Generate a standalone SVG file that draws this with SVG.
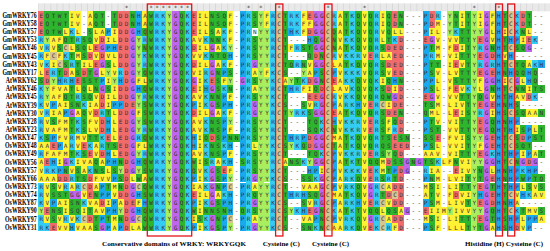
<svg xmlns="http://www.w3.org/2000/svg" width="550" height="251" viewBox="0 0 550 251">
<style>
#cells path{fill:none;stroke-width:1px;shape-rendering:crispEdges}
.y{stroke:#FFF133}.g{stroke:#2DB52D}.r{stroke:#F26B6B}.c{stroke:#33CCF2}.h{stroke:#1BA9EE}.l{stroke:#A8EE5E}.p{stroke:#C066EE}.k{stroke:#D5C58E}
.seq{font-family:"DejaVu Sans Mono",monospace;font-size:6px;letter-spacing:2.4874px;fill:#333}
.lab{font-family:"Liberation Serif",serif;font-weight:bold;font-size:7.5px;text-anchor:end;transform:scale(.78,1)}
.cap{font-family:"Liberation Serif",serif;font-weight:bold;font-size:7px;fill:#000}
.star{font-family:"DejaVu Sans Mono",monospace;font-size:6px;text-anchor:middle;fill:#333}
.box{fill:none;stroke:#E3151B;stroke-width:1.3}
</style>
<defs>
<pattern id="tick" x="38.2" y="0" width="6.1" height="12" patternUnits="userSpaceOnUse"><rect width="6.1" height="12" fill="#E9E9E9"/><line x1="0.25" y1="0" x2="0.25" y2="12" stroke="#C2C2C2" stroke-width="0.5"/></pattern>
</defs>
<rect width="550" height="251" fill="#fff"/>
<g id="header">
<rect x="38.2" y="3.3" width="511.8" height="8" fill="url(#tick)"/>
<text class="star" x="126.65 151.05 157.15 163.25 169.35 175.45 181.55 187.65 248.65 260.85 279.15 327.95 364.55 474.35 498.75" y="10.2">***************</text>
</g>
<g id="cells" transform="translate(38.2 11.35) scale(6.1 8.15)">
<g id="conserved-columns">
<path class="r" d="M14.5 0v27"/><path class="g" d="M18.5 0v27M23.5 0v27"/><path class="c" d="M19.5 0v27M20.5 0v27M24.5 0v27M34.5 0v27M38.5 0v27"/><path class="l" d="M21.5 0v27M36.5 0v27M71.5 0v27"/><path class="p" d="M22.5 0v27M73.5 0v27"/><path class="k" d="M39.5 0v27M47.5 0v27"/><path class="h" d="M75.5 0v27"/>
</g>
<g id="r0"><path class="r" d="M0 .5h1M13 .5h1M25 .5h1M44 .5h1M58 .5h1M64 .5h1M79 .5h1"/><path class="g" d="M1 .5h4M9 .5h2M12 .5h1M15 .5h1M28 .5h3M35 .5h1M40 .5h1M50 .5h1M52 .5h1M54 .5h1M57 .5h1M59 .5h1M68 .5h1M70 .5h1M76 .5h1M80 .5h1"/><path class="y" d="M5 .5h2M8 .5h1M17 .5h1M26 .5h2M31 .5h1M37 .5h1M43 .5h1M49 .5h1M53 .5h1M56 .5h1M69 .5h1M72 .5h1M74 .5h1"/><path class="h" d="M16 .5h1M33 .5h1M63 .5h1"/><path class="c" d="M41 .5h2M48 .5h1M51 .5h1M55 .5h1M65 .5h1M78 .5h1"/><path class="p" d="M45 .5h2"/><path class="l" d="M67 .5h1"/><path class="k" d="M77 .5h1"/></g>
<g id="r1" transform="translate(0 1)"><path class="r" d="M0 .5h1M13 .5h1M25 .5h1M58 .5h1M64 .5h1M79 .5h1"/><path class="g" d="M1 .5h4M9 .5h2M12 .5h1M15 .5h1M28 .5h3M35 .5h1M40 .5h1M50 .5h1M52 .5h1M54 .5h1M57 .5h1M59 .5h1M68 .5h1M70 .5h1M76 .5h1M80 .5h1"/><path class="y" d="M5 .5h2M8 .5h1M17 .5h1M26 .5h2M31 .5h1M37 .5h1M43 .5h2M49 .5h1M53 .5h1M56 .5h1M65 .5h1M69 .5h1M72 .5h1M74 .5h1"/><path class="h" d="M16 .5h1M33 .5h1M63 .5h1"/><path class="c" d="M41 .5h2M48 .5h1M51 .5h1M55 .5h1M78 .5h1"/><path class="p" d="M45 .5h2"/><path class="l" d="M67 .5h1"/><path class="k" d="M77 .5h1"/></g>
<g id="r2" transform="translate(0 2)"><path class="r" d="M0 .5h1M13 .5h1M25 .5h1M44 .5h1"/><path class="g" d="M1 .5h3M8 .5h1M17 .5h1M28 .5h1M40 .5h1M48 .5h1M50 .5h1M52 .5h1M54 .5h1M57 .5h1M69 .5h2M79 .5h1"/><path class="y" d="M4 .5h1M6 .5h1M9 .5h2M12 .5h1M26 .5h2M29 .5h1M31 .5h1M43 .5h1M49 .5h1M53 .5h1M56 .5h1M58 .5h2M64 .5h2M74 .5h1M76 .5h1M80 .5h1"/><path class="c" d="M5 .5h1M30 .5h1M42 .5h1M51 .5h1M55 .5h1M68 .5h1M78 .5h1"/><path class="h" d="M11 .5h1M16 .5h1M33 .5h1M41 .5h1M63 .5h1"/><path class="p" d="M15 .5h1M45 .5h2"/><path class="l" d="M37 .5h1M67 .5h1M72 .5h1"/><path class="k" d="M77 .5h1"/></g>
<g id="r3" transform="translate(0 3)"><path class="c" d="M0 .5h1M6 .5h1M17 .5h1M27 .5h1M30 .5h1M50 .5h2M55 .5h1M58 .5h1M81 .5h1"/><path class="l" d="M1 .5h1M16 .5h1M37 .5h1"/><path class="y" d="M2 .5h2M9 .5h1M11 .5h2M25 .5h2M31 .5h1M49 .5h1M53 .5h1M56 .5h1M65 .5h1M67 .5h2M74 .5h1M79 .5h1"/><path class="g" d="M4 .5h2M7 .5h2M28 .5h2M35 .5h1M40 .5h1M45 .5h1M48 .5h1M52 .5h1M54 .5h1M57 .5h1M69 .5h2M76 .5h1"/><path class="r" d="M10 .5h1M13 .5h1M59 .5h1M63 .5h1M72 .5h1M80 .5h1"/><path class="p" d="M15 .5h1M46 .5h1M64 .5h1"/><path class="h" d="M33 .5h1M44 .5h1M77 .5h2"/></g>
<g id="r4" transform="translate(0 4)"><path class="y" d="M0 .5h1M2 .5h1M5 .5h1M8 .5h1M26 .5h2M29 .5h1M41 .5h1M49 .5h1M53 .5h1M65 .5h1M67 .5h1M69 .5h1"/><path class="c" d="M1 .5h1M30 .5h1M42 .5h1M51 .5h1M55 .5h1M72 .5h1"/><path class="g" d="M3 .5h1M6 .5h2M17 .5h1M35 .5h1M40 .5h1M43 .5h2M48 .5h1M50 .5h1M52 .5h1M54 .5h1M56 .5h1M64 .5h1M70 .5h1M74 .5h1M76 .5h1M78 .5h2"/><path class="k" d="M4 .5h1M77 .5h1"/><path class="r" d="M9 .5h1M13 .5h1M25 .5h1M57 .5h3M68 .5h1"/><path class="p" d="M10 .5h1M15 .5h1M28 .5h1M45 .5h2M80 .5h1"/><path class="h" d="M11 .5h2M33 .5h1M63 .5h1"/><path class="l" d="M16 .5h1M31 .5h1M37 .5h1"/></g>
<g id="r5" transform="translate(0 5)"><path class="c" d="M0 .5h1M4 .5h1M17 .5h1M27 .5h1M48 .5h1M50 .5h3M55 .5h1M64 .5h1"/><path class="y" d="M1 .5h1M3 .5h1M6 .5h1M9 .5h1M11 .5h2M25 .5h2M49 .5h1M53 .5h1M56 .5h2M65 .5h1M67 .5h2M76 .5h1"/><path class="k" d="M2 .5h1"/><path class="g" d="M5 .5h1M7 .5h1M28 .5h3M35 .5h1M40 .5h1M44 .5h1M46 .5h1M69 .5h2"/><path class="r" d="M8 .5h1M10 .5h1M13 .5h1M45 .5h1M54 .5h1M58 .5h2M72 .5h1M74 .5h1"/><path class="p" d="M15 .5h1"/><path class="l" d="M16 .5h1M37 .5h1"/><path class="h" d="M31 .5h1M33 .5h1M63 .5h1M77 .5h1"/></g>
<g id="r6" transform="translate(0 6)"><path class="y" d="M0 .5h1M2 .5h1M7 .5h2M12 .5h1M26 .5h2M29 .5h1M31 .5h1M44 .5h1M48 .5h2M53 .5h1M67 .5h1M69 .5h1M80 .5h1"/><path class="c" d="M1 .5h1M5 .5h1M17 .5h1M30 .5h1M42 .5h1M51 .5h1M55 .5h1M72 .5h1M74 .5h1M81 .5h1"/><path class="k" d="M3 .5h1M77 .5h1"/><path class="g" d="M4 .5h1M6 .5h1M11 .5h1M40 .5h2M43 .5h1M50 .5h1M52 .5h1M54 .5h1M56 .5h1M64 .5h2M70 .5h1M76 .5h1M78 .5h2"/><path class="r" d="M9 .5h1M13 .5h1M25 .5h1M57 .5h3M68 .5h1"/><path class="p" d="M10 .5h1M15 .5h1M28 .5h1M35 .5h1M45 .5h2"/><path class="l" d="M16 .5h1M37 .5h1"/><path class="h" d="M33 .5h1M63 .5h1M82 .5h1"/></g>
<g id="r7" transform="translate(0 7)"><path class="y" d="M0 .5h1M5 .5h1M10 .5h1M12 .5h1M25 .5h2M35 .5h1M37 .5h1M44 .5h1M49 .5h1M53 .5h1M57 .5h1M65 .5h1M67 .5h2"/><path class="r" d="M1 .5h1M4 .5h1M7 .5h1M58 .5h2M72 .5h1M74 .5h1"/><path class="c" d="M2 .5h1M13 .5h1M27 .5h1M50 .5h3M55 .5h1"/><path class="g" d="M3 .5h1M6 .5h1M8 .5h1M17 .5h1M29 .5h1M31 .5h1M40 .5h1M46 .5h1M54 .5h1M56 .5h1M64 .5h1M69 .5h2M76 .5h1M78 .5h2M81 .5h1"/><path class="p" d="M9 .5h1M15 .5h1M28 .5h1"/><path class="l" d="M11 .5h1M16 .5h1M43 .5h1"/><path class="h" d="M30 .5h1M33 .5h1M45 .5h1M48 .5h1M63 .5h1M77 .5h1M80 .5h1"/></g>
<g id="r8" transform="translate(0 8)"><path class="g" d="M0 .5h1M7 .5h3M29 .5h1M35 .5h1M42 .5h1M46 .5h1M52 .5h1M54 .5h1M57 .5h1M59 .5h1M68 .5h3M81 .5h1"/><path class="r" d="M1 .5h1M6 .5h1M28 .5h1M44 .5h1M48 .5h1"/><path class="l" d="M2 .5h1M12 .5h1M31 .5h1M37 .5h1M41 .5h1"/><path class="h" d="M3 .5h1M5 .5h1M10 .5h1M13 .5h1M58 .5h1M63 .5h2M80 .5h1"/><path class="c" d="M4 .5h1M27 .5h1M43 .5h1M50 .5h2M55 .5h1"/><path class="y" d="M11 .5h1M16 .5h2M26 .5h1M30 .5h1M40 .5h1M49 .5h1M53 .5h1M56 .5h1M65 .5h1M67 .5h1M72 .5h1M76 .5h1M79 .5h1"/><path class="p" d="M15 .5h1M25 .5h1M33 .5h1M45 .5h1M74 .5h1M78 .5h1"/><path class="k" d="M77 .5h1"/></g>
<g id="r9" transform="translate(0 9)"><path class="c" d="M0 .5h1M30 .5h1M42 .5h1M51 .5h1M55 .5h1M70 .5h1"/><path class="l" d="M1 .5h1M37 .5h1"/><path class="y" d="M2 .5h3M6 .5h1M8 .5h1M12 .5h1M26 .5h1M35 .5h1M43 .5h2M48 .5h3M53 .5h1M58 .5h1M65 .5h1M67 .5h1M69 .5h1M72 .5h1M80 .5h1"/><path class="g" d="M5 .5h1M7 .5h1M9 .5h1M11 .5h1M17 .5h1M29 .5h1M31 .5h1M40 .5h1M45 .5h1M52 .5h1M54 .5h1M56 .5h1M64 .5h1M74 .5h1M76 .5h1M78 .5h2M81 .5h2"/><path class="p" d="M10 .5h1M15 .5h1M28 .5h1"/><path class="r" d="M13 .5h1M25 .5h1M46 .5h1M57 .5h1M59 .5h1M68 .5h1"/><path class="h" d="M16 .5h1M27 .5h1M33 .5h1M41 .5h1M63 .5h1"/><path class="k" d="M77 .5h1"/></g>
<g id="r10" transform="translate(0 10)"><path class="c" d="M0 .5h1M6 .5h1M17 .5h1M27 .5h1M48 .5h1M50 .5h2M55 .5h1M81 .5h1"/><path class="l" d="M1 .5h1M16 .5h1M37 .5h1"/><path class="y" d="M2 .5h2M9 .5h1M11 .5h2M25 .5h2M31 .5h1M49 .5h1M53 .5h1M65 .5h1M67 .5h2M74 .5h1M78 .5h2"/><path class="g" d="M4 .5h2M7 .5h2M28 .5h2M35 .5h1M40 .5h1M52 .5h1M54 .5h1M56 .5h2M69 .5h2M72 .5h1M76 .5h1"/><path class="r" d="M10 .5h1M13 .5h1M44 .5h2M59 .5h1M63 .5h1M80 .5h1"/><path class="p" d="M15 .5h1M46 .5h1M58 .5h1M64 .5h1"/><path class="h" d="M30 .5h1M33 .5h1M77 .5h1"/></g>
<g id="r11" transform="translate(0 11)"><path class="c" d="M0 .5h1M7 .5h1M27 .5h1M45 .5h1M50 .5h2M55 .5h1"/><path class="y" d="M1 .5h1M3 .5h2M8 .5h2M11 .5h1M26 .5h1M44 .5h1M49 .5h1M53 .5h1M57 .5h1M65 .5h1M67 .5h3"/><path class="h" d="M2 .5h1M12 .5h2M25 .5h1M30 .5h2M33 .5h1M48 .5h1M52 .5h1M77 .5h1"/><path class="g" d="M5 .5h2M17 .5h1M29 .5h1M40 .5h1M43 .5h1M63 .5h2M70 .5h1M76 .5h1M78 .5h1"/><path class="r" d="M10 .5h1M15 .5h1M54 .5h1M58 .5h2M72 .5h1M74 .5h1"/><path class="l" d="M16 .5h1M37 .5h1"/><path class="p" d="M28 .5h1M35 .5h1M46 .5h1"/><path class="k" d="M56 .5h1"/></g>
<g id="r12" transform="translate(0 12)"><path class="y" d="M0 .5h1M2 .5h2M6 .5h1M8 .5h1M12 .5h1M16 .5h1M26 .5h2M29 .5h1M31 .5h1M49 .5h1M53 .5h1M64 .5h2M67 .5h1M69 .5h1M74 .5h1M80 .5h2"/><path class="c" d="M1 .5h1M10 .5h1M30 .5h1M42 .5h2M51 .5h1M55 .5h1M72 .5h1"/><path class="h" d="M4 .5h1M33 .5h1"/><path class="p" d="M5 .5h1M15 .5h1M28 .5h1M35 .5h1M45 .5h2"/><path class="g" d="M7 .5h1M11 .5h1M17 .5h1M40 .5h1M44 .5h1M50 .5h1M52 .5h1M54 .5h1M56 .5h1M59 .5h1M63 .5h1M70 .5h1M76 .5h1M78 .5h2M82 .5h1"/><path class="r" d="M9 .5h1M13 .5h1M25 .5h1M48 .5h1M57 .5h2M68 .5h1"/><path class="l" d="M37 .5h1M41 .5h1"/><path class="k" d="M77 .5h1"/></g>
<g id="r13" transform="translate(0 13)"><path class="c" d="M0 .5h1M6 .5h1M27 .5h1M46 .5h1M50 .5h3M55 .5h1"/><path class="y" d="M1 .5h1M3 .5h2M8 .5h2M12 .5h1M25 .5h2M49 .5h1M53 .5h1M57 .5h1M65 .5h1M67 .5h2"/><path class="g" d="M2 .5h1M5 .5h1M7 .5h1M17 .5h1M28 .5h2M35 .5h1M40 .5h1M44 .5h2M56 .5h1M58 .5h1M64 .5h1M69 .5h2M74 .5h1M76 .5h1"/><path class="r" d="M10 .5h1M13 .5h1M54 .5h1M59 .5h1M72 .5h1"/><path class="h" d="M11 .5h1M30 .5h1M33 .5h1M48 .5h1M63 .5h1M77 .5h2"/><path class="p" d="M15 .5h1"/><path class="l" d="M16 .5h1M31 .5h1M37 .5h1"/></g>
<g id="r14" transform="translate(0 14)"><path class="c" d="M0 .5h1M6 .5h1M17 .5h1M27 .5h1M46 .5h1M50 .5h3M55 .5h1M58 .5h1"/><path class="y" d="M1 .5h4M8 .5h2M12 .5h1M25 .5h2M31 .5h1M49 .5h1M53 .5h1M57 .5h1M67 .5h2M78 .5h1M81 .5h1"/><path class="g" d="M5 .5h1M7 .5h1M28 .5h2M35 .5h1M40 .5h1M44 .5h2M48 .5h1M56 .5h1M64 .5h2M69 .5h2M74 .5h1M76 .5h1M79 .5h1M82 .5h1"/><path class="r" d="M10 .5h1M13 .5h1M54 .5h1M59 .5h1M72 .5h1"/><path class="h" d="M11 .5h1M30 .5h1M33 .5h1M63 .5h1M77 .5h1M80 .5h1"/><path class="p" d="M15 .5h1"/><path class="l" d="M16 .5h1M37 .5h1"/></g>
<g id="r15" transform="translate(0 15)"><path class="c" d="M0 .5h1M5 .5h1M10 .5h1M16 .5h1M42 .5h1M51 .5h1M55 .5h1"/><path class="g" d="M1 .5h1M8 .5h2M17 .5h1M27 .5h1M29 .5h1M31 .5h2M35 .5h1M40 .5h1M50 .5h1M52 .5h1M54 .5h1M56 .5h2M59 .5h2M63 .5h2M70 .5h1M76 .5h1M78 .5h1M81 .5h2"/><path class="h" d="M2 .5h1M25 .5h1M30 .5h1M33 .5h1M41 .5h1M43 .5h1M80 .5h1"/><path class="y" d="M3 .5h2M6 .5h2M12 .5h1M26 .5h1M48 .5h2M53 .5h1M67 .5h3"/><path class="r" d="M11 .5h1M13 .5h1M28 .5h1M44 .5h1M58 .5h1M65 .5h1M74 .5h1M79 .5h1"/><path class="p" d="M15 .5h1M45 .5h2"/><path class="l" d="M37 .5h1M72 .5h1"/><path class="k" d="M77 .5h1"/></g>
<g id="r16" transform="translate(0 16)"><path class="y" d="M0 .5h2M4 .5h1M6 .5h1M9 .5h1M16 .5h2M26 .5h1M35 .5h1M49 .5h1M53 .5h1M65 .5h1M67 .5h3M72 .5h1"/><path class="r" d="M2 .5h1M7 .5h1M13 .5h1M44 .5h1M58 .5h3M74 .5h1"/><path class="h" d="M3 .5h1M25 .5h1M31 .5h1M33 .5h1M63 .5h1"/><path class="c" d="M5 .5h1M8 .5h1M10 .5h1M27 .5h1M30 .5h1M42 .5h1M51 .5h1M55 .5h1"/><path class="g" d="M11 .5h2M28 .5h2M40 .5h1M43 .5h1M48 .5h1M50 .5h1M52 .5h1M54 .5h1M56 .5h2M64 .5h1M70 .5h1M76 .5h1M78 .5h3"/><path class="p" d="M15 .5h1M45 .5h2"/><path class="l" d="M37 .5h1M41 .5h1"/><path class="k" d="M77 .5h1"/></g>
<g id="r17" transform="translate(0 17)"><path class="c" d="M0 .5h1M6 .5h1M17 .5h1M27 .5h1M46 .5h1M50 .5h3M55 .5h1M74 .5h1"/><path class="y" d="M1 .5h4M9 .5h1M12 .5h1M25 .5h2M31 .5h1M49 .5h1M53 .5h1M63 .5h3M67 .5h2M79 .5h1M81 .5h1"/><path class="g" d="M5 .5h1M7 .5h1M28 .5h2M35 .5h1M40 .5h1M44 .5h2M56 .5h1M58 .5h1M69 .5h2M76 .5h1M82 .5h1"/><path class="r" d="M8 .5h1M10 .5h1M13 .5h1M54 .5h1M59 .5h1M72 .5h1"/><path class="h" d="M11 .5h1M30 .5h1M33 .5h1M48 .5h1M77 .5h2M80 .5h1"/><path class="p" d="M15 .5h1"/><path class="l" d="M16 .5h1M37 .5h1M57 .5h1"/></g>
<g id="r18" transform="translate(0 18)"><path class="y" d="M0 .5h1M3 .5h1M6 .5h3M10 .5h1M26 .5h1M29 .5h1M40 .5h1M49 .5h1M53 .5h1M56 .5h1M66 .5h2M69 .5h2"/><path class="r" d="M1 .5h1M57 .5h1M80 .5h1"/><path class="h" d="M2 .5h1M11 .5h2M16 .5h1M31 .5h1M48 .5h1"/><path class="p" d="M4 .5h1M15 .5h1M45 .5h2M60 .5h1M62 .5h1M74 .5h1M79 .5h1M81 .5h1"/><path class="c" d="M5 .5h1M28 .5h1M30 .5h1M43 .5h1M51 .5h1M65 .5h1"/><path class="g" d="M9 .5h1M13 .5h1M17 .5h1M25 .5h1M27 .5h1M33 .5h1M35 .5h1M41 .5h2M50 .5h1M52 .5h1M54 .5h2M58 .5h2M61 .5h1M63 .5h2M68 .5h1M76 .5h1M78 .5h1"/><path class="l" d="M37 .5h1M44 .5h1M72 .5h1"/><path class="k" d="M77 .5h1"/></g>
<g id="r19" transform="translate(0 19)"><path class="y" d="M0 .5h1M5 .5h1M7 .5h1M11 .5h1M26 .5h1M31 .5h1M46 .5h1M49 .5h1M53 .5h1M56 .5h1M64 .5h2M69 .5h2M74 .5h1"/><path class="c" d="M1 .5h2M8 .5h1M27 .5h1M50 .5h3M55 .5h1M63 .5h1M79 .5h1"/><path class="h" d="M3 .5h1M33 .5h1M44 .5h2M48 .5h1M58 .5h1M77 .5h2M80 .5h2"/><path class="g" d="M4 .5h1M6 .5h1M9 .5h2M12 .5h1M17 .5h1M25 .5h1M29 .5h1M35 .5h1M40 .5h1M57 .5h1M72 .5h1M76 .5h1"/><path class="l" d="M13 .5h1M16 .5h1M37 .5h1"/><path class="p" d="M15 .5h1M28 .5h1M60 .5h1"/><path class="r" d="M30 .5h1M54 .5h1M59 .5h1M68 .5h1"/></g>
<g id="r20" transform="translate(0 20)"><path class="y" d="M0 .5h3M9 .5h3M15 .5h1M17 .5h1M26 .5h1M49 .5h1M53 .5h1M65 .5h1M67 .5h3"/><path class="r" d="M3 .5h2M8 .5h1M54 .5h1M59 .5h1M74 .5h1"/><path class="c" d="M5 .5h1M27 .5h1M45 .5h1M50 .5h2M55 .5h1M57 .5h1"/><path class="g" d="M6 .5h2M13 .5h1M16 .5h1M29 .5h1M40 .5h1M43 .5h2M52 .5h1M56 .5h1M58 .5h1M64 .5h1M70 .5h1M72 .5h1M76 .5h1M79 .5h1M81 .5h2"/><path class="h" d="M12 .5h1M25 .5h1M30 .5h1M33 .5h1M48 .5h1M63 .5h1M77 .5h2M80 .5h1"/><path class="p" d="M28 .5h1M35 .5h1M46 .5h1"/><path class="l" d="M31 .5h1M37 .5h1"/></g>
<g id="r21" transform="translate(0 21)"><path class="c" d="M0 .5h1M4 .5h1M6 .5h1M27 .5h1M50 .5h2M55 .5h1"/><path class="y" d="M1 .5h1M3 .5h1M5 .5h1M9 .5h1M12 .5h1M25 .5h2M35 .5h1M43 .5h3M49 .5h1M53 .5h1M57 .5h1M63 .5h1M65 .5h1M67 .5h2M79 .5h1M81 .5h1"/><path class="g" d="M2 .5h1M11 .5h1M13 .5h1M17 .5h1M29 .5h1M40 .5h1M52 .5h1M64 .5h1M69 .5h2M74 .5h1M76 .5h1M80 .5h1M82 .5h1"/><path class="k" d="M7 .5h1M16 .5h1M31 .5h1M56 .5h1"/><path class="r" d="M8 .5h1M58 .5h2M72 .5h1"/><path class="h" d="M10 .5h1M30 .5h1M33 .5h1M48 .5h1M77 .5h2"/><path class="p" d="M15 .5h1M28 .5h1M46 .5h1M54 .5h1"/><path class="l" d="M37 .5h1"/></g>
<g id="r22" transform="translate(0 22)"><path class="c" d="M0 .5h1M30 .5h1M42 .5h1M51 .5h1M55 .5h1M80 .5h1"/><path class="y" d="M1 .5h1M7 .5h1M12 .5h1M26 .5h2M29 .5h1M48 .5h2M53 .5h1M63 .5h1M65 .5h1M67 .5h1M69 .5h2M78 .5h1M81 .5h2"/><path class="g" d="M2 .5h3M9 .5h1M17 .5h1M35 .5h1M40 .5h1M44 .5h2M50 .5h1M52 .5h1M56 .5h1M64 .5h1M76 .5h1"/><path class="p" d="M5 .5h2M15 .5h1M28 .5h1M46 .5h1M54 .5h1"/><path class="r" d="M8 .5h1M13 .5h1M25 .5h1M57 .5h1M59 .5h1M68 .5h1M74 .5h1"/><path class="h" d="M10 .5h2M16 .5h1M31 .5h1M33 .5h1M41 .5h1M43 .5h1M72 .5h1M79 .5h1"/><path class="l" d="M37 .5h1"/><path class="k" d="M58 .5h1M77 .5h1"/></g>
<g id="r23" transform="translate(0 23)"><path class="c" d="M0 .5h1M7 .5h1M27 .5h1M45 .5h1M50 .5h2M55 .5h1"/><path class="y" d="M1 .5h1M3 .5h2M8 .5h2M11 .5h1M13 .5h1M16 .5h1M26 .5h1M44 .5h1M49 .5h1M53 .5h1M57 .5h1M65 .5h1M67 .5h3M78 .5h1"/><path class="h" d="M2 .5h1M12 .5h1M17 .5h1M25 .5h1M30 .5h2M33 .5h1M48 .5h1M52 .5h1M63 .5h1M77 .5h1"/><path class="g" d="M5 .5h2M29 .5h1M40 .5h1M43 .5h1M64 .5h1M70 .5h1M76 .5h1"/><path class="r" d="M10 .5h1M15 .5h1M54 .5h1M58 .5h2M72 .5h1M74 .5h1"/><path class="p" d="M28 .5h1M35 .5h1M46 .5h1"/><path class="l" d="M37 .5h1"/><path class="k" d="M56 .5h1"/></g>
<g id="r24" transform="translate(0 24)"><path class="l" d="M0 .5h1M13 .5h1M37 .5h1M41 .5h1M67 .5h1M72 .5h1"/><path class="r" d="M1 .5h1M44 .5h1M63 .5h1"/><path class="g" d="M2 .5h2M5 .5h2M8 .5h1M17 .5h1M25 .5h1M27 .5h4M33 .5h1M35 .5h1M40 .5h1M46 .5h1M50 .5h1M52 .5h1M54 .5h2M57 .5h2M74 .5h1M76 .5h1M79 .5h1M82 .5h1"/><path class="y" d="M4 .5h1M7 .5h1M9 .5h2M26 .5h1M49 .5h1M53 .5h1M56 .5h1M59 .5h1M64 .5h3M68 .5h3M80 .5h2"/><path class="h" d="M11 .5h2M16 .5h1M31 .5h1M43 .5h1"/><path class="p" d="M15 .5h1M45 .5h1M60 .5h1"/><path class="c" d="M42 .5h1M48 .5h1M51 .5h1M78 .5h1"/><path class="k" d="M77 .5h1"/></g>
<g id="r25" transform="translate(0 25)"><path class="c" d="M0 .5h1M4 .5h1M6 .5h1M27 .5h1M50 .5h2M55 .5h1"/><path class="y" d="M1 .5h1M3 .5h1M5 .5h1M12 .5h1M25 .5h1M35 .5h1M43 .5h2M49 .5h1M53 .5h1M57 .5h1M63 .5h1M65 .5h1M67 .5h2M79 .5h1M82 .5h1"/><path class="g" d="M2 .5h1M9 .5h1M11 .5h1M13 .5h1M17 .5h1M26 .5h1M29 .5h1M40 .5h1M46 .5h1M52 .5h1M64 .5h1M69 .5h2M74 .5h1M76 .5h1"/><path class="k" d="M7 .5h1M16 .5h1M31 .5h1M56 .5h1"/><path class="r" d="M8 .5h1M58 .5h2M72 .5h1"/><path class="h" d="M10 .5h1M30 .5h1M33 .5h1M45 .5h1M48 .5h1M77 .5h2M80 .5h2"/><path class="p" d="M15 .5h1M28 .5h1M54 .5h1"/><path class="l" d="M37 .5h1"/></g>
<g id="r26" transform="translate(0 26)"><path class="c" d="M0 .5h2M27 .5h1M45 .5h1M50 .5h2M55 .5h1M57 .5h1"/><path class="r" d="M2 .5h1M54 .5h1M59 .5h1M78 .5h1"/><path class="y" d="M3 .5h2M6 .5h3M12 .5h1M15 .5h2M26 .5h1M48 .5h2M53 .5h1M58 .5h1M65 .5h1M67 .5h3M74 .5h1M79 .5h1"/><path class="h" d="M5 .5h1M11 .5h1M13 .5h1M25 .5h1M30 .5h1M33 .5h1M63 .5h1M77 .5h1M80 .5h1"/><path class="g" d="M9 .5h1M17 .5h1M29 .5h1M40 .5h1M43 .5h2M46 .5h1M52 .5h1M64 .5h1M70 .5h1M72 .5h1M76 .5h1"/><path class="p" d="M10 .5h1M28 .5h1M35 .5h1"/><path class="l" d="M31 .5h1M37 .5h1"/><path class="k" d="M56 .5h1"/></g>
</g>
<g id="residues">
<text class="seq" x="39.44" y="17.65">EQTWTIV-AQT-TDDNHAWRKYGQKEILNSQF-PRSYFRCTRKFEGGCRATKQVQRIQEN---PDR-YNITYIGFHTCKDT--</text>
<text class="seq" x="39.44" y="25.8">EQTWTIV-AQT-TDDNHAWRKYGQKEILNSQF-PRSYFRCTRKFFGGCRATKQVQRIQDN---PDM-YTITYIGFHTCKDT--</text>
<text class="seq" x="39.44" y="33.95">EQTWLKL-SLAPIDDGHQWRKYGQKEILSAKF-PRNYYRCTHKFDGGCQATKQVQRVQLL---PIL-YKTTYYGLHICKNL--</text>
<text class="seq" x="39.44" y="42.1">RYAFQTRSQVDILDDGYRWRKYGQKAVKNNKF-PRSYYRCT---HQGCNVKKQVQRLTKD---EGV-VVTTYEGVHTHPIEK-</text>
<text class="seq" x="39.44" y="50.25">VRVSCLSQLEGPHEDGYNWRKYGQKDILGAKY-PRSYYRCTFRSTGGCNATKQVQRSDED---PTM-FDITYRGNHTCSQG--</text>
<text class="seq" x="39.44" y="58.4">RFCFKTMSDVDVLDDGYKWRKYGQKVVKNTQH-PRSYYRCT---QDNCRVKKRVERLAED---PRM-VITTYEGDHVH-----</text>
<text class="seq" x="39.44" y="66.55">VKICSRTILEGSLDDGYRWRKYGQKDILGAKF-PRGYYRCTQRNVGGCLATKQVQRSDED---PTT-IEVTYRGRHTCTQAKH</text>
<text class="seq" x="39.44" y="74.7">LERTDASDTGLYVRDGYQWRKYGQKVIRGNPS-PRAYFKCS--YAPSCPVKKKVQRSVED---PSV-LVTTYEGEHNHQQHQ-</text>
<text class="seq" x="39.44" y="82.85">SDYHRHESSTPIYHDGFLWRKYGQKGIKESFY-GRSYYKCAYTKDGNCEAKKQVQKIQHN---PPL-VSTTYFGGHICGLHQ-</text>
<text class="seq" x="39.44" y="91">KYFVATLQLNGSIDDGHQWRKYGQKEIHGSKN-PRAYYRCTHRFIQDCLAVKQVQKSDID---PSL-FEVKYLGNHTCNNITS</text>
<text class="seq" x="39.44" y="99.15">RYAFQTRSQVDILDDGYRWRKYGQKAVKNNPF-PRSYYKCT---EEGCRVKKQVQRQWGD---EGV-VVTTYQGVHTHAVDK-</text>
<text class="seq" x="39.44" y="107.3">KVPAISNKIADIPPDEYSWRKYGQKPIKGSPH-PRGYYKCS--SVRGCPARKHVERCIDE---TSM-LIVTYEGEHNHS----</text>
<text class="seq" x="39.44" y="115.45">VRIAPGAQVDRTLDDGFSWRKYGQKDILGAKF-PRGYYRCTYRKSGGCEATKQVQRSDEN---QML-LEISYRGIHSCSQAAN</text>
<text class="seq" x="39.44" y="123.6">RVSFMTKSFVDHLEDGYSWRKYGQKAVKNSPY-PRSYYRCT---TQKCHVKKRVERSFQD---PTV-VITTYEGQHNHP----</text>
<text class="seq" x="39.44" y="131.75">RVAFMTKSLVDHLEDGYRWRKYGQKAVKNSPF-PRSYYRCT---SQKCNVKKRVERSFRD---PST-VVTTYEGQHTHISPLT</text>
<text class="seq" x="39.44" y="139.9">KSPFVRMVTTKELEDGRQWRKYGQKHIQDSPNNPRSYYRCTHRPDGGCMATKQVQRTSESN--SSE-FVISYYGEHTCSDPST</text>
<text class="seq" x="39.44" y="148.05">AAEPARVEKARTSEDGFLWRKYGQKHIKNSKH-PRLYYKCSYKQDGGCTATKQVQRQSEED--PSL-VVITYFGEHTCSQT--</text>
<text class="seq" x="39.44" y="156.2">RFAFMTKSEVDHLEDGYRWRKYGQKAVKNSPF-PRSYYRCT---TQKCPVKKRVERSYQD---AAV-VITTYEGKHTHPIPAT</text>
<text class="seq" x="39.44" y="164.35">AEHIGKIVAQAPHNDGHQWRKYGQKWISRAKH-SRSYYRCANSKYGGCPATKTVQQMDSSGNGTSKLFNVIYYGGHTCNGDG-</text>
<text class="seq" x="39.44" y="172.5">VRKPNVSAKNSLSYDGYSWRKYGQKQVKGSEF-PRSYYKCT---HPICPVKKKVEKMTPDG--RIA--EIVYNGLHNHPKHP-</text>
<text class="seq" x="39.44" y="180.65">AAADDRTSDFVVPSDLWAWRKYGQKPIKGSPY-PRGYYKCS--SSKGCPARKQVERSRTD---PNM-LVITYTGEHNHPWPTQ</text>
<text class="seq" x="39.44" y="188.8">RVSVRARCDAPTMNDGCQWRKYGQKIAKGNPC-PRAYYRCT--VAAGCPVRKQVGRCADD---MSI-LITTYEGTHTHPLSVS</text>
<text class="seq" x="39.44" y="196.95">RVSSTGGVENPPVDDGHSWRKYGQKEILGAKH-PRQYYRCTHRHSQGCMATKQVGRTDCD---ATV-FDVIYHGEHTCVHKAV</text>
<text class="seq" x="39.44" y="205.1">KVPAISNKVADIPADEFHWRKYGQKPIKGSPH-PRGYYKCS--SVRGCPARKHVERCVDD---PSM-LIVTYEGDHNHA----</text>
<text class="seq" x="39.44" y="213.25">YENSISQITAVPHYDGHQWRKYGQKWINNSNH-QRSYYRCSYKHEGNCKATKTVQQLQSAG--EIIMYIVVYYGQHTCKTMVS</text>
<text class="seq" x="39.44" y="221.4">RVSVRVKCDTPTMNDGCQWRKYGQKISKGNPC-PRAYYRCT--VAPNCPVRKQVGRCADD---MSI-LITTYEGTHSHPLPPA</text>
<text class="seq" x="39.44" y="229.55">RKEVVHVAASGPAPDLAWWRKYGQKPIKGSPY-PRGYYKCS--SNKNCAARKQVEKCRFD---PSF-LLLTYTGAHSHDVP--</text>
</g>
<g id="names">
<text class="lab" x="46.9" y="17.9">GmWRKY76</text>
<text class="lab" x="46.9" y="26.05">GmWRKY58</text>
<text class="lab" x="46.9" y="34.2">GmWRKY57</text>
<text class="lab" x="46.9" y="42.35">GmWRKY53</text>
<text class="lab" x="46.9" y="50.5">GmWRKY46</text>
<text class="lab" x="46.9" y="58.65">GmWRKY45</text>
<text class="lab" x="46.9" y="66.8">GmWRKY43</text>
<text class="lab" x="46.9" y="74.95">GmWRKY17</text>
<text class="lab" x="46.9" y="83.1">AtWRKY62</text>
<text class="lab" x="46.9" y="91.25">AtWRKY46</text>
<text class="lab" x="46.9" y="99.4">AtWRKY45</text>
<text class="lab" x="46.9" y="107.55">AtWRKY39</text>
<text class="lab" x="46.9" y="115.7">AtWRKY30</text>
<text class="lab" x="46.9" y="123.85">AtWRKY28</text>
<text class="lab" x="46.9" y="132">AtWRKY23</text>
<text class="lab" x="46.9" y="140.15">OsWRKY47</text>
<text class="lab" x="46.9" y="148.3">OsWRKY48</text>
<text class="lab" x="46.9" y="156.45">OsWRKY49</text>
<text class="lab" x="46.9" y="164.6">OsWRKY56</text>
<text class="lab" x="46.9" y="172.75">OsWRKY57</text>
<text class="lab" x="46.9" y="180.9">OsWRKY66</text>
<text class="lab" x="46.9" y="189.05">OsWRKY73</text>
<text class="lab" x="46.9" y="197.2">OsWRKY74</text>
<text class="lab" x="46.9" y="205.35">OsWRKY87</text>
<text class="lab" x="46.9" y="213.5">OsWRKY90</text>
<text class="lab" x="46.9" y="221.65">OsWRKY97</text>
<text class="lab" x="46.9" y="229.8">OsWRKY31</text>
</g>
<g id="highlights">
<rect class="box" x="147.3" y="4" width="44.4" height="232"/>
<rect class="box" x="275.6" y="4" width="7.3" height="232"/>
<rect class="box" x="324.5" y="4" width="7.5" height="232"/>
<rect class="box" x="495.6" y="4" width="6.9" height="232"/>
<rect class="box" x="507.7" y="4" width="7" height="232"/>
</g>
<g id="captions">
<text class="cap" x="102" y="246" textLength="144" lengthAdjust="spacingAndGlyphs">Conservative domains of WRKY: WRKYGQK</text>
<text class="cap" x="281.3" y="246" text-anchor="middle">Cysteine (C)</text>
<text class="cap" x="330.5" y="246" text-anchor="middle">Cysteine (C)</text>
<text class="cap" x="465" y="246">Histidine (H) Cysteine (C)</text>
</g>
</svg>
